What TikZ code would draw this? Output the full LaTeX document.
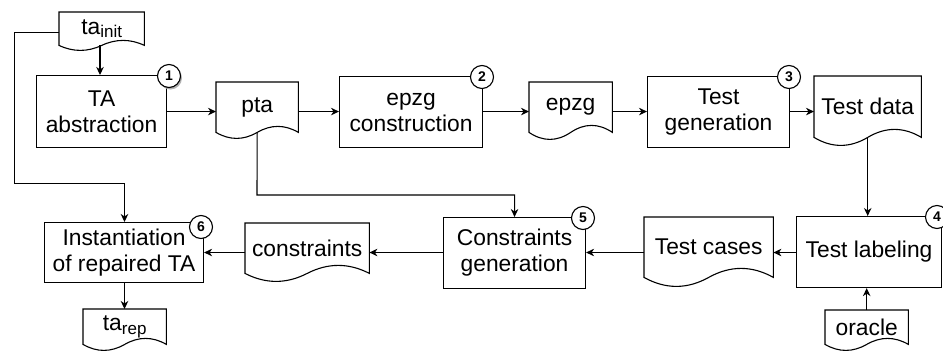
\documentclass[tikz,border=0pt]{standalone}
\usepackage{fontspec}
\setmainfont{Liberation Sans}
\usetikzlibrary{arrows.meta,calc}

\newcommand\lbfont{\fontsize{22.8}{26}\selectfont}
\newcommand\subtxt[1]{\raisebox{-3.5pt}{\fontsize{17}{17}\selectfont #1}}

% document outline: flat top, wavy bottom below the node's south side
\newcommand\docoutline[2]{%
  \draw[outline] let \p1=(#1.south west), \p2=(#1.south east), \n1={\x2-\x1} in
    (#1.south west) -- (#1.north west) -- (#1.north east) -- (#1.south east)
    .. controls (\x1+5*\n1/6, \y1+4*#2pt/3) and (\x1+2*\n1/3, \y1+4*#2pt/3) .. (\x1+\n1/2, \y1)
    .. controls (\x1+\n1/3, \y1-4*#2pt/3) and (\x1+\n1/6, \y1-4*#2pt/3) .. (\x1,\y1) -- cycle;
}

\begin{document}
\begin{tikzpicture}[x=1pt,y=-1pt,
  outline/.style={line width=1.1pt, line join=miter},
  procbox/.style 2 args={draw, line width=1.1pt, anchor=north west,
    minimum width=#1pt, minimum height=#2pt, inner sep=0pt, align=center, font=\lbfont},
  docbox/.style 2 args={anchor=north west,
    minimum width=#1pt, minimum height=#2pt, inner sep=0pt, align=center, font=\lbfont},
  badge/.style={circle, draw, line width=1.1pt, fill=white, minimum size=23pt,
    inner sep=0pt, font=\bfseries\fontsize{14}{14}\selectfont},
  conn/.style={line width=1.1pt},
  flow/.style={conn, -{Stealth[length=8pt,width=7.5pt,inset=2.5pt]}},
]
\useasboundingbox (0,0) rectangle (943,354);

% process steps
\node[procbox={130}{72}] (abs) at (36,75) {TA\\abstraction};
\node[procbox={143}{71}] (epc) at (339,76) {epzg\\construction};
\node[procbox={142}{71}] (gen) at (647,76) {Test\\generation};
\node[procbox={145}{71}] (lab) at (796,216) {Test labeling};
\node[procbox={142}{71}] (cgen) at (443,217) {Constraints\\generation};
\node[procbox={159}{60}] (inst) at (44,222) {Instantiation\\of repaired TA};

% documents
\node[docbox={85}{33}] (tinit) at (59,12) {ta\subtxt{init}};
\node[docbox={82}{50}] (pta) at (216,82) {pta};
\node[docbox={83}{50}] (epzg) at (529,82) {epzg};
\node[docbox={107}{61}] (tdata) at (814,76) {Test data};
\node[docbox={129}{60}] (tcases) at (644,217) {Test cases};
\node[docbox={124}{50}] (cons) at (245,223) {constraints};
\node[docbox={83}{35}] (trep) at (83,309) {ta\subtxt{rep}};
\node[docbox={83}{34}] (orac) at (825,310) {oracle};

\docoutline{tinit}{5}
\docoutline{pta}{6}
\docoutline{epzg}{7}
\docoutline{tdata}{8}
\docoutline{tcases}{9}
\docoutline{cons}{8}
\docoutline{trep}{6}
\docoutline{orac}{6}

% step numbers
\node[badge, draw=none, fill=black!30] (b1s) at (170.5,78) {};
\node[badge] (b1) at (169,76) {1};
\node[badge] (b2) at (482,77) {2};
\node[badge] (b3) at (789,77) {3};
\node[badge] (b4) at (937,217) {4};
\node[badge] (b5) at (583,218) {5};
\node[badge] (b6) at (201,227) {6};

% corner points of the routed connectors
\coordinate (lc) at (14.5,183.5);
\coordinate (jc) at (257,195);

% top row
\draw[flow] (tinit.south -| 100,0) -- (abs.north -| 100,0);
\draw[flow] (abs.east) -- (abs.east -| pta.west);
\draw[flow] (pta.east |- abs.east) -- (abs.east -| epc.west);
\draw[flow] (epc.east |- abs.east) -- (abs.east -| epzg.west);
\draw[flow] (epzg.east |- abs.east) -- (abs.east -| gen.west);
\draw[flow] (gen.east |- abs.east) -- (abs.east -| tdata.west);

% down the right side
\draw[flow] (tdata.south) -- (tdata.south |- lab.north);
\draw[flow] (orac.north) -- (orac.north |- lab.south);

% bottom row, right to left
\draw[flow] (lab.west |- 0,252.5) -- (tcases.east |- 0,252.5);
\draw[flow] (tcases.west |- 0,252.5) -- (cgen.east |- 0,252.5);
\draw[flow] (cgen.west |- 0,252.5) -- (cons.east |- 0,252.5);
\draw[flow] (cons.west |- 0,252.5) -- (inst.east |- 0,252.5);
\draw[flow] (inst.south -| 124.5,0) -- (trep.north -| 124.5,0);

% routed connectors
\draw[flow] (tinit.west |- 0,32.5) -| (lc) -| (inst.north -| 124.5,0);
\draw[flow] (pta.south) -- (jc) -| (cgen.north);
\end{tikzpicture}
\end{document}
